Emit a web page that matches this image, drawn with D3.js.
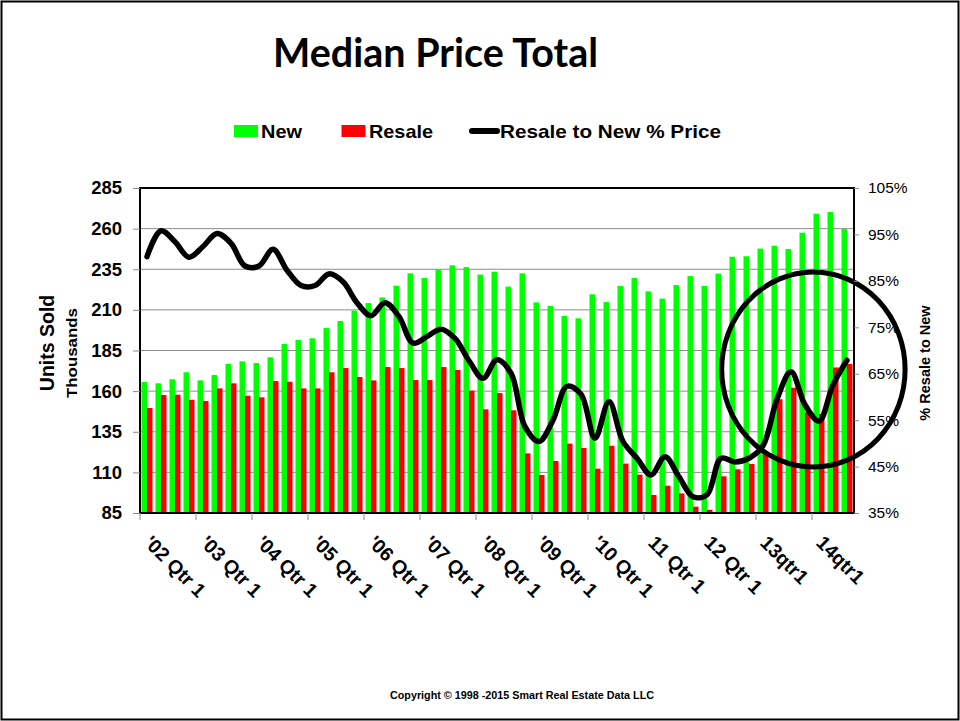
<!DOCTYPE html>
<html>
<head>
<meta charset="utf-8">
<script src="https://cdn.jsdelivr.net/npm/d3@7"></script>
<style>
  body { margin: 0; background: #fff; }
</style>
</head>
<body>
<div id="chart"></div>
<script>
// quarters 2002 Q1 .. 2014 Q3
const years = [2002, 2003, 2004, 2005, 2006, 2007, 2008, 2009, 2010, 2011, 2012, 2013, 2014];
const quarters = years.flatMap(y => [1, 2, 3, 4].map(q => y + " Q" + q)).slice(0, 51);

const tickLabels = ["'02 Qtr 1", "'03 Qtr 1", "'04 Qtr 1", "'05 Qtr 1", "'06 Qtr 1", "'07 Qtr 1",
  "'08 Qtr 1", "'09 Qtr 1", "'10 Qtr 1", "11 Qtr 1", "12 Qtr 1", "13qtr1", "14qtr1"];

// units sold, thousands
const newUnits = [165.6, 164.8, 167.3, 171.6, 166.6, 169.9, 176.7, 178.3, 177.3, 180.8,
  189.0, 191.5, 192.5, 198.8, 203.2, 209.5, 214.2, 217.7, 224.9, 232.5,
  229.6, 235.0, 237.4, 236.4, 231.7, 233.5, 224.3, 232.5, 214.6, 212.4,
  206.2, 204.8, 219.6, 214.8, 224.7, 229.6, 221.4, 216.9, 225.3, 230.8,
  224.7, 232.3, 242.7, 243.0, 247.7, 249.5, 247.5, 257.5, 269.2, 270.2, 259.8];

const resaleUnits = [149.6, 157.6, 157.8, 154.7, 153.9, 161.7, 164.8, 157.2, 156.2, 166.2,
  165.8, 161.7, 161.7, 171.6, 174.2, 168.7, 166.6, 174.8, 174.2, 166.8,
  166.8, 174.8, 173.0, 160.3, 148.8, 158.8, 148.2, 121.7, 108.4, 117.0,
  127.7, 125.0, 112.3, 126.4, 115.4, 108.6, 96.1, 101.8, 97.1, 88.9,
  87.0, 107.6, 111.9, 115.2, 122.0, 155.0, 162.1, 147.0, 146.0, 174.6, 176.7];

// resale price as % of new price
const resalePct = [90.2, 95.8, 93.4, 90.1, 92.4, 95.2, 93.1, 88.2, 88.2, 91.8,
  87.3, 84.0, 84.0, 86.5, 84.8, 80.3, 77.5, 80.3, 77.3, 71.6,
  73.0, 74.6, 72.6, 67.8, 64.0, 68.0, 65.1, 53.6, 50.4, 55.0,
  62.3, 60.6, 51.1, 59.0, 50.4, 46.8, 43.2, 47.1, 42.8, 38.5,
  38.9, 46.8, 46.0, 46.8, 49.5, 59.5, 65.4, 58.3, 54.8, 62.6, 67.9];

const leftTicks = [85, 110, 135, 160, 185, 210, 235, 260, 285];
const rightTicks = [35, 45, 55, 65, 75, 85, 95, 105];

// hand-drawn circle round the last quarters (quarter position, units value, half-sizes)
const annot = { at: 48.1, value: 173.3, halfQ: 6.55, halfV: 60 };

const W = 960, H = 721;
const plot = { left: 140, right: 854, top: 188, bottom: 513 };
const arial = "'Liberation Sans', Arial, sans-serif";

const svg = d3.select("#chart").append("svg")
  .attr("width", W).attr("height", H)
  .style("font-family", arial);

svg.append("rect").attr("x", 1.5).attr("y", 1.5)
  .attr("width", W - 3).attr("height", H - 3)
  .attr("fill", "#fff").attr("stroke", "#000").attr("stroke-width", 2);

var x = d3.scaleBand().domain(quarters).range([plot.left, plot.right]).padding(0);
var xi = d3.scaleLinear().domain([0, quarters.length]).range([plot.left, plot.right]);
var yL = d3.scaleLinear().domain([85, 285]).range([plot.bottom, plot.top]);
var yR = d3.scaleLinear().domain([35, 105]).range([plot.bottom, plot.top]);

// grid
svg.append("g")
  .selectAll("line")
  .data(leftTicks.slice(1, -1))
  .enter().append("line")
  .attr("x1", plot.left).attr("x2", plot.right)
  .attr("y1", d => yL(d)).attr("y2", d => yL(d))
  .attr("stroke", "#8c8c8c").attr("stroke-width", 1);

// bars
const bw = x.bandwidth();
svg.append("g").selectAll("rect")
  .data(quarters)
  .enter().append("rect")
  .attr("x", d => x(d) + bw * 0.107)
  .attr("width", bw * 0.393)
  .attr("y", (d, i) => yL(newUnits[i]))
  .attr("height", (d, i) => yL(85) - yL(newUnits[i]))
  .attr("fill", "#00ff00");

svg.append("g").selectAll("rect")
  .data(quarters)
  .enter().append("rect")
  .attr("x", d => x(d) + bw * 0.5)
  .attr("width", bw * 0.393)
  .attr("y", (d, i) => yL(resaleUnits[i]))
  .attr("height", (d, i) => yL(85) - yL(resaleUnits[i]))
  .attr("fill", "#ff0000");

// ratio line
var line = d3.line()
  .x((d, i) => x(quarters[i]) + bw / 2)
  .y(d => yR(d))
  .curve(d3.curveCatmullRom.alpha(0.5));

svg.append("path")
  .attr("d", line(resalePct))
  .attr("fill", "none")
  .attr("stroke", "#000")
  .attr("stroke-width", 5.5)
  .attr("stroke-linejoin", "round")
  .attr("stroke-linecap", "round");

// annotation circle
svg.append("ellipse")
  .attr("cx", xi(annot.at))
  .attr("cy", yL(annot.value))
  .attr("rx", xi(annot.halfQ) - xi(0))
  .attr("ry", yL(0) - yL(annot.halfV))
  .attr("fill", "none").attr("stroke", "#000").attr("stroke-width", 5);

// frame
svg.append("path")
  .attr("d", d3.line()([[plot.left, plot.bottom], [plot.left, plot.top], [plot.right, plot.top], [plot.right, plot.bottom], [plot.left, plot.bottom]]))
  .attr("fill", "none").attr("stroke", "#000").attr("stroke-width", 2);

// left axis
var gL = svg.append("g").attr("transform", "translate(" + plot.left + ",0)")
  .call(d3.axisLeft(yL).tickValues(leftTicks).tickSize(7).tickPadding(11));
gL.select(".domain").remove();
gL.selectAll(".tick line").attr("stroke", "#8c8c8c");
gL.selectAll(".tick text")
  .attr("font-size", 18.5).attr("font-weight", "bold").attr("fill", "#000")
  .attr("font-family", arial);

// right axis
var gR = svg.append("g").attr("transform", "translate(" + plot.right + ",0)")
  .call(d3.axisRight(yR).tickValues(rightTicks).tickSize(5).tickPadding(9).tickFormat(d => d + "%"));
gR.select(".domain").remove();
gR.selectAll(".tick line").attr("stroke", "#8c8c8c");
gR.selectAll(".tick text")
  .attr("font-size", 15.5).attr("fill", "#000")
  .attr("font-family", arial);

// bottom ticks, one per year
svg.append("g").selectAll("line")
  .data(tickLabels)
  .enter().append("line")
  .attr("x1", (d, i) => x(quarters[i * 4])).attr("x2", (d, i) => x(quarters[i * 4]))
  .attr("y1", plot.bottom).attr("y2", plot.bottom + 7)
  .attr("stroke", "#8c8c8c");

svg.append("g").selectAll("text")
  .data(tickLabels)
  .enter().append("text")
  .attr("transform", (d, i) => "translate(" + (x(quarters[i * 4]) + bw / 2 - 4) + "," + (plot.bottom + 31) + ") rotate(45)")
  .attr("font-size", 19.5).attr("font-weight", "bold")
  .text(d => d);

// axis titles
svg.append("text")
  .attr("transform", "translate(54,343) rotate(-90)")
  .attr("text-anchor", "middle").attr("font-size", 19.5).attr("font-weight", "bold")
  .text("Units Sold");
svg.append("text")
  .attr("transform", "translate(77,353) rotate(-90)")
  .attr("text-anchor", "middle").attr("font-size", 15).attr("font-weight", "bold")
  .attr("textLength", 90).attr("lengthAdjust", "spacingAndGlyphs")
  .text("Thousands");
svg.append("text")
  .attr("transform", "translate(930,363) rotate(-90)")
  .attr("text-anchor", "middle").attr("font-size", 14.5).attr("font-weight", "bold")
  .text("% Resale to New");

// title
svg.append("text")
  .attr("x", 273).attr("y", 67)
  .style("font-family", "Lato, 'Open Sans', sans-serif")
  .attr("font-size", 40).attr("font-weight", "bold")
  .attr("textLength", 325).attr("lengthAdjust", "spacingAndGlyphs")
  .text("Median Price Total");

// legend
var leg = svg.append("g");
leg.append("rect").attr("x", 234).attr("y", 125).attr("width", 24).attr("height", 12).attr("fill", "#00ff00");
leg.append("text").attr("x", 261).attr("y", 138).attr("font-size", 19).attr("font-weight", "bold")
  .attr("textLength", 41).attr("lengthAdjust", "spacingAndGlyphs").text("New");
leg.append("rect").attr("x", 341.5).attr("y", 125).attr("width", 24).attr("height", 12).attr("fill", "#ff0000");
leg.append("text").attr("x", 369).attr("y", 138).attr("font-size", 19).attr("font-weight", "bold")
  .attr("textLength", 64).attr("lengthAdjust", "spacingAndGlyphs").text("Resale");
leg.append("line").attr("x1", 472).attr("x2", 497).attr("y1", 131).attr("y2", 131)
  .attr("stroke", "#000").attr("stroke-width", 6).attr("stroke-linecap", "round");
leg.append("text").attr("x", 500).attr("y", 138).attr("font-size", 19).attr("font-weight", "bold")
  .attr("textLength", 221).attr("lengthAdjust", "spacingAndGlyphs").text("Resale to New % Price");

// footer
svg.append("text")
  .attr("x", 390).attr("y", 699)
  .attr("font-size", 11).attr("font-weight", "bold")
  .attr("textLength", 264).attr("lengthAdjust", "spacingAndGlyphs")
  .text("Copyright © 1998 -2015 Smart Real Estate Data LLC");
</script>
</body>
</html>
